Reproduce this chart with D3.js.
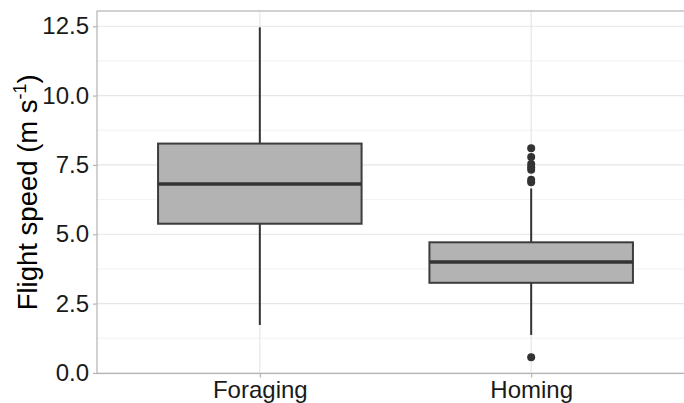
<!DOCTYPE html>
<html>
<head>
<meta charset="utf-8">
<script src="https://cdn.jsdelivr.net/npm/d3@7"></script>
<style>
  body { margin: 0; background: #fff; }
  svg text { font-family: "Liberation Sans", Arial, sans-serif; }
</style>
</head>
<body>
<svg id="chart" width="684" height="403"></svg>
<script>
// box stats
var groups = ["Foraging", "Homing"];
var lowerWhisker = [1.73, 1.37];
var q1 = [5.38, 3.25];
var medians = [6.81, 4.0];
var q3 = [8.27, 4.71];
var upperWhisker = [12.46, 6.65];
var outliersForaging = [];
var outliersHoming = [0.57, 6.88, 6.97, 7.33, 7.42, 7.53, 7.79, 8.1];
var yTicks = [0, 2.5, 5, 7.5, 10, 12.5];
var yMinor = [1.25, 3.75, 6.25, 8.75, 11.25];

var data = groups.map(function(g, i) {
  return {
    name: g, lo: lowerWhisker[i], q1: q1[i], med: medians[i], q3: q3[i], hi: upperWhisker[i],
    out: i == 0 ? outliersForaging : outliersHoming
  };
});

var svg = d3.select("#chart");
var pLeft = 97, pTop = 11, pRight = 694, pBottom = 373.5;

var y = d3.scaleLinear().domain([-0.02, 13.05]).range([pBottom, pTop]);
// discrete axis: positions 1..2 with 0.6 padding each side
var x = d3.scaleLinear().domain([0.4, 2.6]).range([pLeft, pRight]);
var boxW = x(1.375) - x(1);

// grid
svg.selectAll(".minor").data(yMinor).enter().append("line")
  .attr("x1", pLeft).attr("x2", pRight)
  .attr("y1", function(d) { return y(d); }).attr("y2", function(d) { return y(d); })
  .style("stroke", "#f2f2f2").style("stroke-width", 1);
svg.selectAll(".major").data(yTicks).enter().append("line")
  .attr("x1", pLeft).attr("x2", pRight)
  .attr("y1", function(d) { return y(d); }).attr("y2", function(d) { return y(d); })
  .style("stroke", "#e6e6e6").style("stroke-width", 1.2);
svg.selectAll(".vmajor").data(groups).enter().append("line")
  .attr("x1", function(d, i) { return x(i + 1); }).attr("x2", function(d, i) { return x(i + 1); })
  .attr("y1", pTop).attr("y2", pBottom)
  .style("stroke", "#e6e6e6").style("stroke-width", 1.2);

// panel border
svg.append("rect").attr("x", pLeft).attr("y", pTop)
  .attr("width", pRight - pLeft).attr("height", pBottom - pTop)
  .style("fill", "none").style("stroke", "#b3b3b3").style("stroke-width", 1.2);

// axes
var yAxis = d3.axisLeft(y).tickValues(yTicks).tickFormat(d3.format(".1f")).tickSize(4).tickPadding(4);
var gy = svg.append("g").attr("transform", "translate(" + pLeft + ",0)").call(yAxis);
gy.select(".domain").remove();
gy.selectAll(".tick line").style("stroke", "#b3b3b3").style("stroke-width", 1.2);
gy.selectAll(".tick text").style("font-size", "24px").style("fill", "#1a1a1a");

var xAxis = d3.axisBottom(x).tickValues([1, 2]).tickFormat(function(d) { return groups[d - 1]; }).tickSize(4).tickPadding(3);
var gx = svg.append("g").attr("transform", "translate(0," + pBottom + ")").call(xAxis);
gx.select(".domain").remove();
gx.selectAll(".tick line").style("stroke", "#b3b3b3").style("stroke-width", 1.2);
gx.selectAll(".tick text").style("font-size", "24px").style("fill", "#1a1a1a");

// y title
var title = svg.append("text")
  .attr("transform", "translate(37," + (pTop + pBottom) / 2 + ") rotate(-90)")
  .attr("text-anchor", "middle")
  .style("font-size", "27.5px").style("fill", "#000");
title.append("tspan").text("Flight speed (m s");
title.append("tspan").attr("dy", -11).style("font-size", "18px").text("-1");
title.append("tspan").attr("dy", 11).text(")");

// boxes
var box = svg.selectAll(".box").data(data).enter().append("g");
box.append("line")
  .attr("x1", function(d, i) { return x(i + 1); }).attr("x2", function(d, i) { return x(i + 1); })
  .attr("y1", function(d) { return y(d.hi); }).attr("y2", function(d) { return y(d.q3); })
  .style("stroke", "#333").style("stroke-width", 2);
box.append("line")
  .attr("x1", function(d, i) { return x(i + 1); }).attr("x2", function(d, i) { return x(i + 1); })
  .attr("y1", function(d) { return y(d.q1); }).attr("y2", function(d) { return y(d.lo); })
  .style("stroke", "#333").style("stroke-width", 2);
box.append("rect")
  .attr("x", function(d, i) { return x(i + 1) - boxW; })
  .attr("width", 2 * boxW)
  .attr("y", function(d) { return y(d.q3); })
  .attr("height", function(d) { return y(d.q1) - y(d.q3); })
  .style("fill", "#b3b3b3").style("stroke", "#3d3d3d").style("stroke-width", 2);
box.append("line")
  .attr("x1", function(d, i) { return x(i + 1) - boxW; }).attr("x2", function(d, i) { return x(i + 1) + boxW; })
  .attr("y1", function(d) { return y(d.med); }).attr("y2", function(d) { return y(d.med); })
  .style("stroke", "#333").style("stroke-width", 3.5);
box.each(function(d, i) {
  d3.select(this).selectAll("circle").data(d.out).enter().append("circle")
    .attr("cx", x(i + 1)).attr("cy", function(v) { return y(v); })
    .attr("r", 4).style("fill", "#333");
});
</script>
</body>
</html>
